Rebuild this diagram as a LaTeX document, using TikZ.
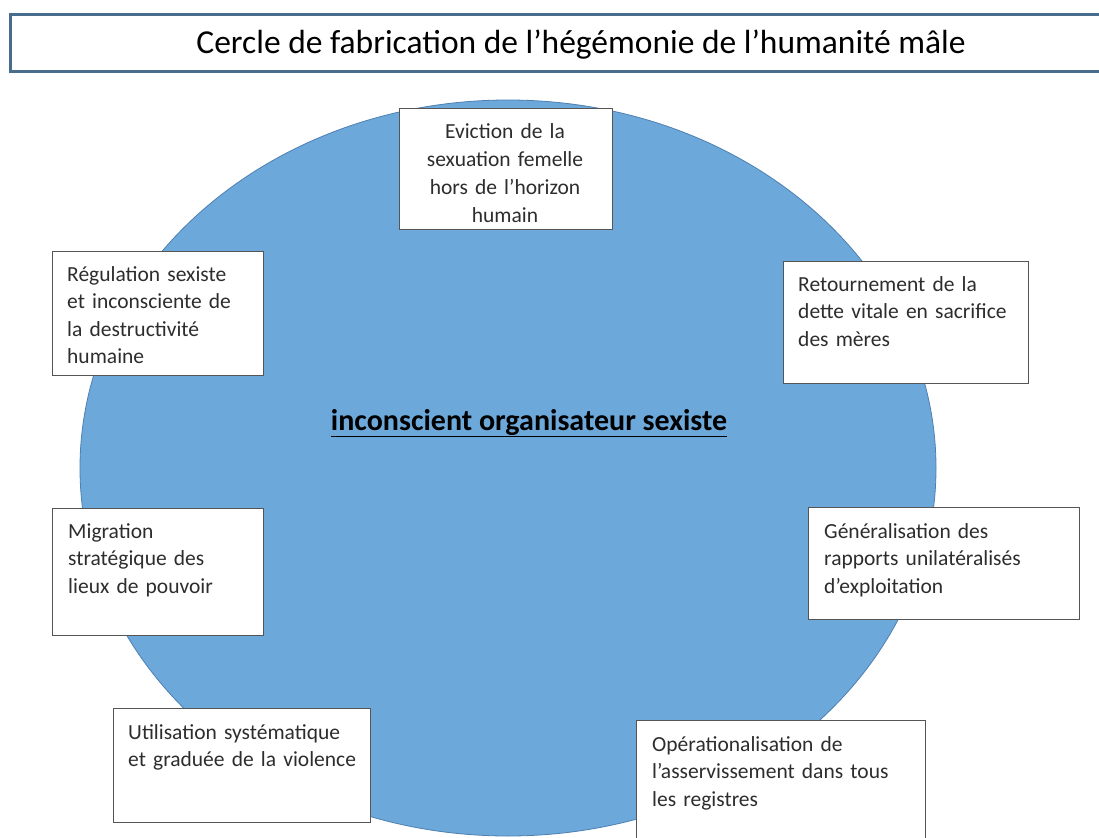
\documentclass[tikz,border=0pt]{standalone}
\usepackage{fontspec}
\setmainfont{Carlito}
\usetikzlibrary{shapes.geometric}
\definecolor{ellfill}{RGB}{108,168,218}
\definecolor{elledge}{RGB}{78,128,178}
\definecolor{titleedge}{RGB}{72,108,140}
\definecolor{boxgray}{RGB}{85,85,85}
\definecolor{textgray}{RGB}{45,45,45}
\newcommand\bfnt{\fontsize{21.5}{27.5}\selectfont}
\newcommand\efnt{\fontsize{21.5}{28}\selectfont}
\newcommand\tfnt{\fontsize{33.5}{38}\selectfont}
\newcommand\cfnt{\fontsize{30}{34}\selectfont\bfseries}
\begin{document}
\begin{tikzpicture}[x=1pt,y=-1pt,
  boxst/.style={draw=boxgray, line width=1.1pt, fill=white, inner sep=0pt, anchor=north west},
  txt/.style={anchor=north west, inner sep=0pt, align=left, text width=290pt, font=\bfnt, text=textgray},
  ctxt/.style={anchor=north, inner sep=0pt, align=center, text width=210pt, font=\efnt, text=textgray}
]
\useasboundingbox (0,0) rectangle (1099,837);
\clip (0,0) rectangle (1099,837);
\fill[white] (0,0) rectangle (1099,837);
% title
\node[draw=titleedge, line width=3pt, fill=white, anchor=north west, inner sep=0pt,
      minimum width=1120pt, minimum height=57pt] (title) at (9,13) {};
\node[anchor=base, inner sep=0pt, font=\tfnt, text=black] (titletext) at (581,54)
  {Cercle de fabrication de l’hégémonie de l’humanité mâle};
% ellipse
\node[ellipse, draw=elledge, line width=0.8pt, fill=ellfill, minimum width=856pt,
      minimum height=736pt, inner sep=0pt] (ell) at (508,468) {};
% centre label
\node[anchor=base, inner sep=0pt, font=\cfnt, text=black] (centre) at (529,430)
  {\underline{inconscient organisateur sexiste}};
% boxes
\node[boxst, minimum width=213pt, minimum height=121pt] (b1) at (399,108) {};
\begin{scope}
\clip (400,109) rectangle (611,224.5);
\node[ctxt] (t1) at (505,118.4) {\strut Eviction de la\\sexuation femelle\\hors de l’horizon\\humain};
\end{scope}
\node[boxst, minimum width=211pt, minimum height=124pt] (b2) at (52,251) {};
\node[txt] (t2) at (67,262) {\strut Régulation sexiste\\et inconsciente de\\la destructivité\\humaine};
\node[boxst, minimum width=245pt, minimum height=122pt] (b3) at (783,261) {};
\node[txt] (t3) at (798,272) {\strut Retournement de la\\dette vitale en sacrifice\\des mères};
\node[boxst, minimum width=211pt, minimum height=127pt] (b4) at (52,508) {};
\node[txt] (t4) at (68,519) {\strut Migration\\stratégique des\\lieux de pouvoir};
\node[boxst, minimum width=271pt, minimum height=112pt] (b5) at (808,507) {};
\node[txt] (t5) at (824,519) {\strut Généralisation des\\rapports unilatéralisés\\d’exploitation};
\node[boxst, minimum width=257pt, minimum height=114pt] (b6) at (113,708) {};
\node[txt] (t6) at (128,720) {\strut Utilisation systématique\\et graduée de la violence};
\node[boxst, minimum width=289pt, minimum height=140pt] (b7) at (636,720) {};
\node[txt] (t7) at (652,732) {\strut Opérationalisation de\\l’asservissement dans tous\\les registres};
\end{tikzpicture}
\end{document}
